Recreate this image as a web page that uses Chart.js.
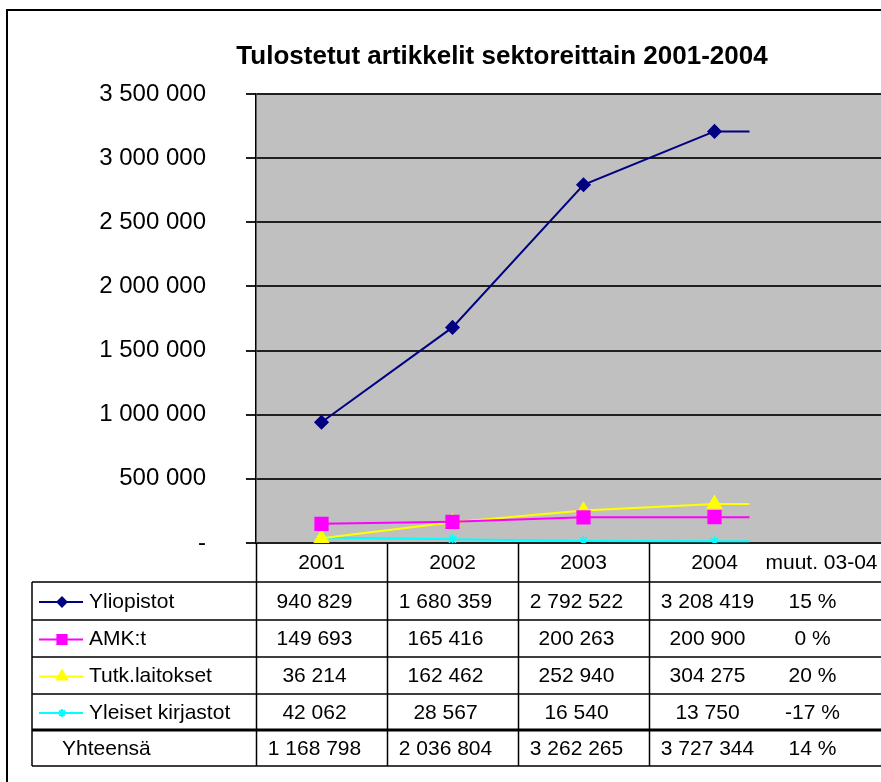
<!DOCTYPE html>
<html>
<head>
  <title>Tulostetut artikkelit sektoreittain 2001-2004</title>
  <meta charset="UTF-8">
  <script src="https://cdn.jsdelivr.net/npm/chart.js"></script>
  <style>
    body {
      margin: 0;
      background-color: white;
      overflow: hidden;
    }
    .wrap {
      width: 881px;
      height: 782px;
      overflow: hidden;
      position: relative;
    }
  </style>
</head>
<body>
  <div class="wrap">
    <canvas id="chart" width="912" height="782"></canvas>
  </div>

  <script>
    // values
    const years = ['2001', '2002', '2003', '2004', 'muut. 03-04'];
    const seriesNames = ['Yliopistot', 'AMK:t', 'Tutk.laitokset', 'Yleiset kirjastot'];
    const yliopistot = [940829, 1680359, 2792522, 3208419, null];
    const amk = [149693, 165416, 200263, 200900, null];
    const tutk = [36214, 162462, 252940, 304275, null];
    const yleiset = [42062, 28567, 16540, 13750, null];
    const changes = ['15 %', '0 %', '20 %', '-17 %'];
    const totals = [1168798, 2036804, 3262265, 3727344];
    const totalChange = '14 %';
    const yTicks = [0, 500000, 1000000, 1500000, 2000000, 2500000, 3000000, 3500000];

    const colors = ['#000080', '#FF00FF', '#FFFF00', '#00FFFF'];
    const styles = ['rectRot', 'rect', 'triangle', 'star'];
    const radii = [6.5, 9, 8, 5];
    const keyRadii = [4.5, 6.5, 6, 4];
    const allSeries = [yliopistot, amk, tutk, yleiset];

    const fmt = (n) => n.toString().replace(/\B(?=(\d{3})+(?!\d))/g, ' ');
    const FONT = '"Liberation Sans", Arial, sans-serif';

    // gray plot background
    const plotBg = {
      id: 'plotBg',
      beforeDraw(chart) {
        const a = chart.chartArea, ctx = chart.ctx;
        ctx.save();
        ctx.fillStyle = '#C0C0C0';
        ctx.fillRect(a.left, a.top, a.right - a.left, a.bottom - a.top);
        ctx.restore();
      }
    };

    // short flat tail after the last point, as in the original
    const tails = {
      id: 'tails',
      beforeDatasetsDraw(chart) {
        const ctx = chart.ctx;
        chart.data.datasets.forEach((ds, i) => {
          const pts = chart.getDatasetMeta(i).data.filter((p, j) => ds.data[j] != null);
          const last = pts[pts.length - 1];
          ctx.save();
          ctx.strokeStyle = ds.borderColor;
          ctx.lineWidth = ds.borderWidth;
          ctx.beginPath();
          ctx.moveTo(last.x, last.y);
          ctx.lineTo(last.x + 35, last.y);
          ctx.stroke();
          ctx.restore();
        });
      }
    };

    // title, data table and outer frame
    const frame = {
      id: 'frame',
      afterDraw(chart) {
        const ctx = chart.ctx;
        const x = chart.scales.x;
        const a = chart.chartArea;
        const W = chart.width;
        const rows = [543, 582, 620, 657, 694, 730, 766];
        const tableLeft = 32;

        ctx.save();
        // outer border
        ctx.strokeStyle = '#000';
        ctx.lineWidth = 2;
        ctx.strokeRect(7, 10, W + 20, 800);

        // title
        ctx.fillStyle = '#000';
        ctx.font = 'bold 26px ' + FONT;
        ctx.textAlign = 'center';
        ctx.textBaseline = 'middle';
        ctx.fillText('Tulostetut artikkelit sektoreittain 2001-2004', 502, 57);

        // table lines
        ctx.lineWidth = 1.5;
        ctx.beginPath();
        for (let r = 1; r < rows.length; r++) {
          if (r === 5) continue;
          ctx.moveTo(tableLeft, rows[r]);
          ctx.lineTo(W, rows[r]);
        }
        ctx.moveTo(tableLeft, rows[1]);
        ctx.lineTo(tableLeft, rows[6]);
        for (let c = 0; c < 4; c++) {
          const bx = Math.round(x.getPixelForValue(c) - (x.getPixelForValue(1) - x.getPixelForValue(0)) / 2) + 0.5;
          ctx.moveTo(bx, a.bottom);
          ctx.lineTo(bx, rows[6]);
        }
        ctx.stroke();
        ctx.lineWidth = 3;
        ctx.beginPath();
        ctx.moveTo(tableLeft, rows[5]);
        ctx.lineTo(W, rows[5]);
        ctx.stroke();

        // header
        ctx.font = '21px ' + FONT;
        const mid = (r) => (rows[r] + rows[r + 1]) / 2 + 1;
        for (let c = 0; c < 4; c++) {
          ctx.fillText(years[c], x.getPixelForValue(c), mid(0));
        }
        const chgX = x.getPixelForValue(4) - 33;
        ctx.fillText(years[4], chgX + 9, mid(0));

        // series rows
        allSeries.forEach((s, i) => {
          const yy = mid(i + 1);
          for (let c = 0; c < 4; c++) {
            ctx.fillText(fmt(s[c]), x.getPixelForValue(c) - 7, yy);
          }
          ctx.fillText(changes[i], chgX, yy);
          // legend key
          ctx.strokeStyle = colors[i];
          ctx.fillStyle = colors[i];
          ctx.lineWidth = 2;
          ctx.beginPath();
          ctx.moveTo(39, yy);
          ctx.lineTo(83, yy);
          ctx.stroke();
          Chart.helpers.drawPoint(ctx, {pointStyle: styles[i], radius: keyRadii[i], rotation: 0, borderWidth: 1.5}, 62, yy);
          ctx.fillStyle = '#000';
          ctx.textAlign = 'left';
          ctx.fillText(seriesNames[i], 89, yy);
          ctx.textAlign = 'center';
        });

        // totals
        const ty = mid(5);
        for (let c = 0; c < 4; c++) {
          ctx.fillText(fmt(totals[c]), x.getPixelForValue(c) - 7, ty);
        }
        ctx.fillText(totalChange, chgX, ty);
        ctx.textAlign = 'left';
        ctx.fillText('Yhteensä', 62, ty);
        ctx.restore();
      }
    };

    new Chart(document.getElementById('chart').getContext('2d'), {
      type: 'line',
      data: {
        labels: years,
        datasets: seriesNames.map((name, i) => ({
          label: name,
          data: allSeries[i],
          borderColor: colors[i],
          backgroundColor: colors[i],
          borderWidth: 2,
          pointStyle: styles[i],
          pointRadius: radii[i],
          pointBorderWidth: 1.5,
          tension: 0,
          fill: false
        }))
      },
      options: {
        responsive: false,
        animation: false,
        layout: {
          autoPadding: false,
          padding: { left: 0, top: 94, right: 1, bottom: 239 }
        },
        plugins: {
          legend: { display: false },
          tooltip: { enabled: false }
        },
        scales: {
          x: {
            display: false,
            offset: true
          },
          y: {
            min: 0,
            max: 3500000,
            afterFit(scale) { scale.width = 256; },
            afterBuildTicks(scale) { scale.ticks = yTicks.map(v => ({ value: v })); },
            ticks: {
              padding: 40,
              color: '#000',
              font: { family: FONT, size: 24 },
              callback: (v) => v === 0 ? '-' : fmt(v)
            },
            grid: {
              color: '#202020',
              lineWidth: 2,
              tickLength: 10,
              drawTicks: true
            },
            border: { display: true, color: '#000', width: 1.5 }
          }
        }
      },
      plugins: [plotBg, tails, frame]
    });
  </script>
</body>
</html>
